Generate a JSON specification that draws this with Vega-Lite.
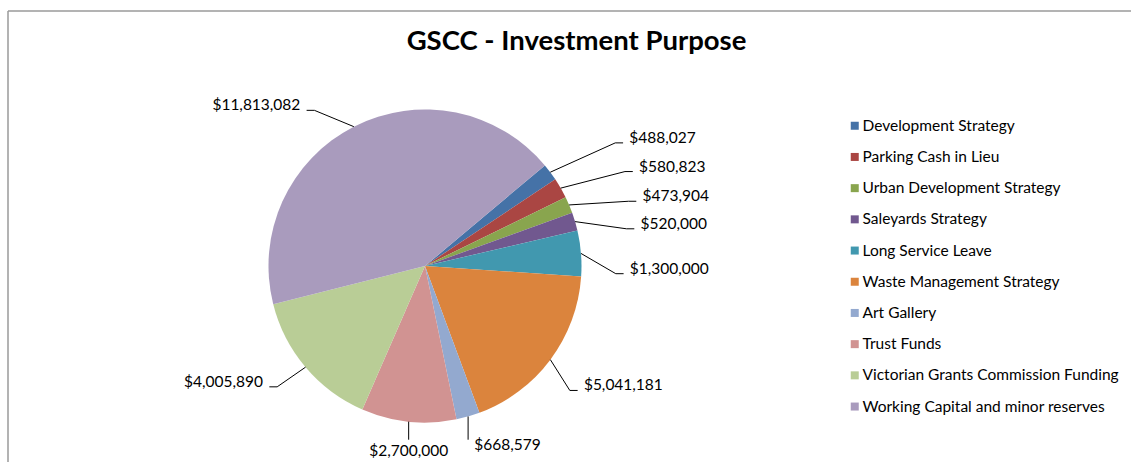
{
  "$schema": "https://vega.github.io/schema/vega-lite/v6.json",
  "width": 1123,
  "height": 451,
  "autosize": {"type": "none"},
  "padding": {"left": 8, "top": 11, "right": 0, "bottom": 0},
  "background": "white",
  "config": {
    "view": {"stroke": null},
    "font": "Lato"
  },
  "title": {
    "text": "GSCC - Investment Purpose",
    "anchor": "middle",
    "frame": "group",
    "dx": 7,
    "dy": 29,
    "offset": -38,
    "baseline": "alphabetic",
    "font": "Lato",
    "fontSize": 27.5,
    "fontWeight": "bold",
    "color": "black"
  },
  "data": {
    "values": [
      {"idx": 1, "name": "Development Strategy", "value": 488027},
      {"idx": 2, "name": "Parking Cash in Lieu", "value": 580823},
      {"idx": 3, "name": "Urban Development Strategy", "value": 473904},
      {"idx": 4, "name": "Saleyards Strategy", "value": 520000},
      {"idx": 5, "name": "Long Service Leave", "value": 1300000},
      {"idx": 6, "name": "Waste Management Strategy", "value": 5041181},
      {"idx": 7, "name": "Art Gallery", "value": 668579},
      {"idx": 8, "name": "Trust Funds", "value": 2700000},
      {"idx": 9, "name": "Victorian Grants Commission Funding", "value": 4005890},
      {"idx": 10, "name": "Working Capital and minor reserves", "value": 11813082}
    ]
  },
  "layer": [
    {
      "data": {"values": [{"edge": "frame"}]},
      "mark": {"type": "rule", "color": "#9a9a9a", "strokeWidth": 1.5},
      "encoding": {
        "y": {"datum": 1.6294, "type": "quantitative", "scale": {"domain": [-1.2524, 1.6294], "nice": false, "zero": false}, "axis": null}
      }
    },
    {
      "data": {"values": [{"edge": "frame"}]},
      "mark": {"type": "rule", "color": "#9a9a9a", "strokeWidth": 1.5},
      "encoding": {
        "x": {"datum": -2.6645, "type": "quantitative", "scale": {"domain": [-2.6645, 4.5112], "nice": false, "zero": false}, "axis": null}
      }
    },
    {
      "mark": {"type": "arc", "outerRadius": 156.5},
      "encoding": {
        "x": {"datum": 0, "type": "quantitative", "axis": null},
        "y": {"datum": 0, "type": "quantitative", "axis": null},
        "theta": {"field": "value", "type": "quantitative", "stack": true, "scale": {"range": [0.87266, 7.15585]}},
        "order": {"field": "idx", "type": "quantitative"},
        "color": {
          "field": "name",
          "type": "nominal",
          "scale": {
            "domain": ["Development Strategy", "Parking Cash in Lieu", "Urban Development Strategy", "Saleyards Strategy", "Long Service Leave", "Waste Management Strategy", "Art Gallery", "Trust Funds", "Victorian Grants Commission Funding", "Working Capital and minor reserves"],
            "range": ["#4572A7", "#AA4643", "#89A54E", "#71588F", "#4198AF", "#DB843D", "#93A9CF", "#D19392", "#B9CD96", "#A99BBD"]
          },
          "legend": {
            "orient": "none",
            "legendX": 839,
            "legendY": 107,
            "title": null,
            "symbolType": "square",
            "symbolSize": 64,
            "symbolStrokeWidth": 0,
            "labelFont": "Lato",
            "labelFontSize": 15.5,
            "labelColor": "black",
            "labelLimit": 400,
            "rowPadding": 14.2,
            "labelOffset": 0
          }
        }
      }
    },
    {
      "transform": [
        {"joinaggregate": [{"op": "sum", "field": "value", "as": "total"}]},
        {"window": [{"op": "sum", "field": "value", "as": "cum"}], "sort": [{"field": "idx"}], "frame": [null, 0]},
        {"calculate": "(datum.cum - datum.value/2)/datum.total", "as": "mid"},
        {"calculate": "(50 + 360*datum.mid)*PI/180", "as": "a"},
        {"calculate": "cos(datum.a) < -0.9", "as": "isb"},
        {"calculate": "datum.isb && abs(sin(datum.a)) < 0.15", "as": "ctr"},
        {"calculate": "datum.a + (1 + 3*max(0, sin(datum.a)) + 3*pow(max(0, sin(datum.a)), 8) - 23*max(0, -sin(datum.a))*max(0, cos(datum.a)))*PI/180", "as": "b"},
        {"calculate": "1.22 + 0.5*max(0, sin(datum.b))*max(0, cos(datum.b))", "as": "r"},
        {"calculate": "sin(datum.b) >= 0 ? 1 : -1", "as": "side"},
        {"calculate": "datum.isb ? sin(datum.a) : datum.r*sin(datum.b)", "as": "ex"},
        {"calculate": "datum.isb ? -1.11 : datum.r*cos(datum.b)", "as": "ey"},
        {"calculate": "datum.isb ? datum.ex : datum.ex + datum.side*0.05", "as": "hx"},
        {"calculate": "datum.ctr ? datum.ex : datum.hx + datum.side*0.04", "as": "tx"},
        {"calculate": "datum.ctr ? datum.ey - 0.075 : (datum.isb ? datum.ey - 0.035 : datum.ey + 0.032)", "as": "ty"},
        {"calculate": "'$' + format(datum.value, ',')", "as": "label"}
      ],
      "layer": [
        {
          "transform": [
            {"calculate": "[sin(datum.a), datum.ex, datum.hx]", "as": "px"},
            {"calculate": "[cos(datum.a), datum.ey, datum.ey]", "as": "py"},
            {"calculate": "[0, 1, 2]", "as": "k"},
            {"flatten": ["px", "py", "k"]}
          ],
          "mark": {"type": "line", "color": "black", "strokeWidth": 1},
          "encoding": {
            "x": {"field": "px", "type": "quantitative", "axis": null},
            "y": {"field": "py", "type": "quantitative", "axis": null},
            "detail": {"field": "name"},
            "order": {"field": "k", "type": "quantitative"}
          }
        },
        {
          "transform": [{"filter": "datum.side > 0 && !datum.ctr"}],
          "mark": {"type": "text", "align": "left", "baseline": "middle", "font": "Lato", "fontSize": 15.5, "color": "black"},
          "encoding": {
            "x": {"field": "tx", "type": "quantitative", "axis": null},
            "y": {"field": "ty", "type": "quantitative", "axis": null},
            "text": {"field": "label"}
          }
        },
        {
          "transform": [{"filter": "datum.side < 0 && !datum.ctr"}],
          "mark": {"type": "text", "align": "right", "baseline": "middle", "font": "Lato", "fontSize": 15.5, "color": "black"},
          "encoding": {
            "x": {"field": "tx", "type": "quantitative", "axis": null},
            "y": {"field": "ty", "type": "quantitative", "axis": null},
            "text": {"field": "label"}
          }
        },
        {
          "transform": [{"filter": "datum.ctr"}],
          "mark": {"type": "text", "align": "center", "baseline": "middle", "font": "Lato", "fontSize": 15.5, "color": "black"},
          "encoding": {
            "x": {"field": "tx", "type": "quantitative", "axis": null},
            "y": {"field": "ty", "type": "quantitative", "axis": null},
            "text": {"field": "label"}
          }
        }
      ]
    }
  ]
}
